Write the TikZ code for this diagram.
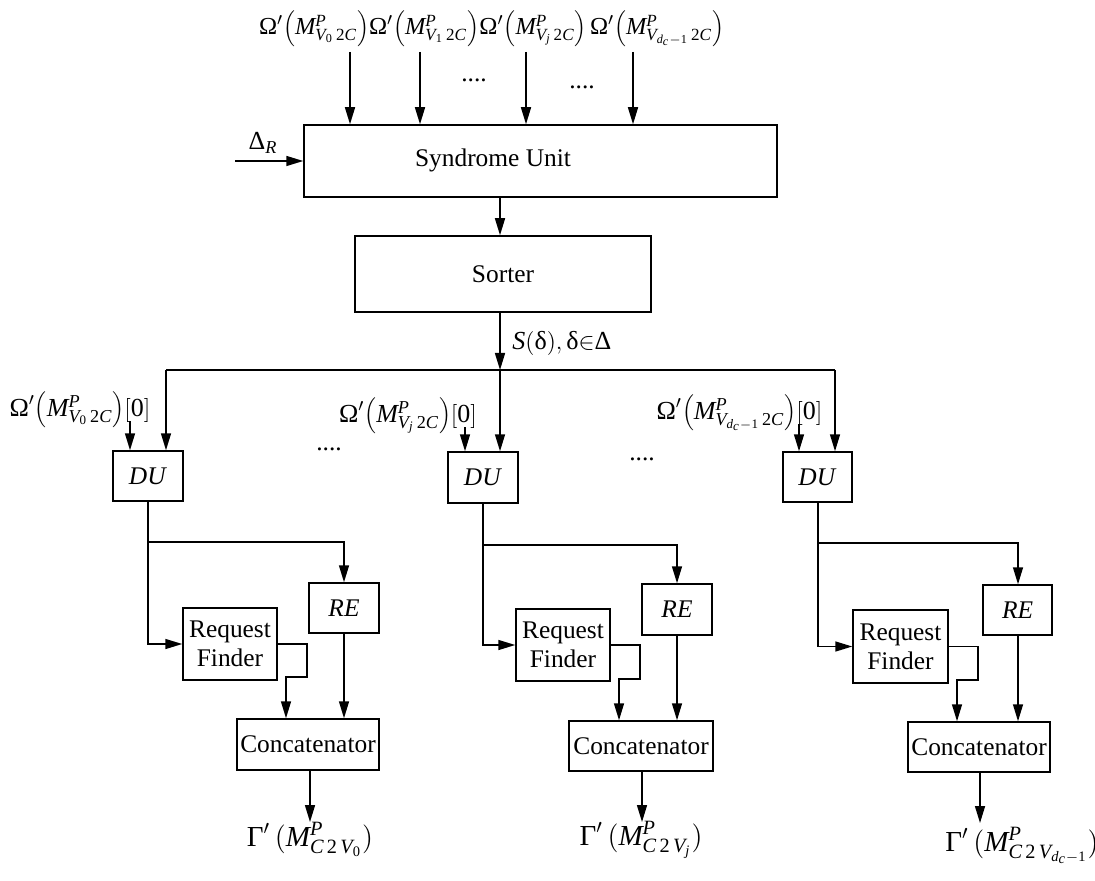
\documentclass[tikz,border=0pt]{standalone}
\usepackage{fontspec}
\setmainfont{Liberation Serif}
\usetikzlibrary{arrows.meta}
\newcommand{\myOm}{\textrm{Ω}^{\prime}}
\newcommand{\myGa}{\textrm{Γ}^{\prime}\,}
\newcommand{\myMM}[1]{\Bigl(\mathit{M}^{\mathit{P}}_{#1}\Bigr)}
\newcommand{\myV}[1]{\mathit{V}_{#1}\,\mathrm{2}\mathit{C}}
\newcommand{\myW}[1]{\mathit{C}\,\mathrm{2}\,\mathit{V}_{#1}}
\newcommand{\mydc}{\mathit{d}_{\mathit{c}}-\mathrm{1}}
\begin{document}
\begin{tikzpicture}[x=0.5pt,y=-0.5pt,
  box/.style={draw,line width=0.75pt,inner sep=0pt,align=center,font=\fontsize{12.7}{14.5}\selectfont},
  arr/.style={line width=0.75pt,-{Triangle[length=8.5pt,width=5pt]}},
  ln/.style={line width=0.75pt},
  lbl/.style={inner sep=0pt,anchor=base,font=\fontsize{13}{15}\selectfont},
  toplbl/.style={inner sep=0pt,anchor=base,font=\fontsize{12.2}{14}\selectfont},
  big/.style={inner sep=0pt,anchor=base,font=\fontsize{14.5}{16}\selectfont},
  txt/.style={inner sep=0pt,font=\fontsize{12.7}{14.5}\selectfont}]
\useasboundingbox (0,0) rectangle (1095,881);

% top labels
\node[toplbl] (in0) at (314,35) {$\myOm\myMM{\myV{\mathrm{0}}}$};
\node[toplbl] (in1) at (424,35) {$\myOm\myMM{\myV{\mathrm{1}}}$};
\node[toplbl] (inj) at (533,35) {$\myOm\myMM{\myV{\mathit{j}}}$};
\node[toplbl] (ind) at (657,35) {$\myOm\myMM{\myV{\mydc}}$};
\node[txt] (dots1) at (474,80) {....};
\node[txt] (dots2) at (582,87) {....};

% main boxes
\node[box,minimum width=236.5pt,minimum height=36pt] (su) at (540.5,161) {};
\node[txt] (sutext) at (493,160) {Syndrome Unit};
\node[box,minimum width=148pt,minimum height=38pt] (sorter) at (503,274) {Sorter};

\coordinate (t0) at (350,52);
\coordinate (t1) at (420,52);
\coordinate (tj) at (526,52);
\coordinate (td) at (633,52);
\foreach \t in {t0,t1,tj,td} \draw[arr] (\t) -- (\t |- su.north);

\coordinate (dr) at (235,161);
\draw[arr] (dr) -- (su.west);
\node[lbl] (drl) at (263,150) {$\textrm{Δ}_{\mathit{R}}$};

\coordinate (sx) at (500,0);
\draw[arr] (su.south -| sx) -- (sorter.north -| sx);
\coordinate (bus) at (500,370);
\draw[arr] (sorter.south -| sx) -- (bus);
\node[inner sep=0pt,anchor=base west,font=\fontsize{13}{15}\selectfont] (sl) at (512,350) {$\mathit{S}(\textrm{δ}),\textrm{δ}{\in}\textrm{Δ}$};

% DU boxes
\node[box,minimum width=35pt,minimum height=25pt] (du1) at (148,476) {\textit{DU}};
\node[box,minimum width=35pt,minimum height=25.5pt] (du2) at (483,477.5) {\textit{DU}};
\node[box,minimum width=34.5pt,minimum height=25pt] (du3) at (817.5,477) {\textit{DU}};

\coordinate (bl) at (166,370);
\coordinate (br) at (835,370);
\draw[ln] (bl) -- (br);
\draw[arr] (bl) -- (bl |- du1.north);
\draw[arr] (bus) -- (bus |- du2.north);
\draw[arr] (br) -- (br |- du3.north);

% [0] labels
\node[lbl] (z1) at (80,416) {$\myOm\myMM{\myV{\mathrm{0}}}[\mathrm{0}]$};
\node[lbl] (z2) at (408,422) {$\myOm\myMM{\myV{\mathit{j}}}[\mathrm{0}]$};
\node[lbl] (z3) at (739.5,419) {$\myOm\myMM{\myV{\mydc}}[\mathrm{0}]$};
\coordinate (a1) at (130,421);
\coordinate (a2) at (465,427);
\coordinate (a3) at (799,424);
\draw[arr] (a1) -- (a1 |- du1.north);
\draw[arr] (a2) -- (a2 |- du2.north);
\draw[arr] (a3) -- (a3 |- du3.north);
\node[txt] (dots3) at (329,449) {....};
\node[txt] (dots4) at (642,459) {....};

% column boxes
\node[box,minimum width=35pt,minimum height=25pt] (re1) at (344,608) {\textit{RE}};
\node[box,minimum width=35pt,minimum height=25.5pt] (re2) at (677,609.5) {\textit{RE}};
\node[box,minimum width=34.5pt,minimum height=25pt] (re3) at (1017.5,610) {\textit{RE}};
\node[box,minimum width=47pt,minimum height=36pt] (rf1) at (230,644) {Request\\Finder};
\node[box,minimum width=47pt,minimum height=36pt] (rf2) at (563,645) {Request\\Finder};
\node[box,minimum width=47.5pt,minimum height=36.5pt] (rf3) at (900.5,646.5) {Request\\Finder};
\node[box,minimum width=71pt,minimum height=25.5pt] (cc1) at (308,744.5) {Concatenator};
\node[box,minimum width=72pt,minimum height=25pt] (cc2) at (641,746) {Concatenator};
\node[box,minimum width=71pt,minimum height=25pt] (cc3) at (979,747) {Concatenator};

% column 1
\coordinate (b1) at (148,542);
\draw[ln] (du1.south) -- (b1);
\draw[arr] (b1) -| (re1.north);
\draw[arr] (b1) |- (rf1.west);
\draw[arr] (rf1.east) -| (307,677) -| (cc1.north -| 286,0);
\draw[arr] (re1.south) -- (re1.south |- cc1.north);
% column 2
\coordinate (b2) at (483,545);
\draw[ln] (du2.south) -- (b2);
\draw[arr] (b2) -| (re2.north);
\draw[arr] (b2) |- (rf2.west);
\draw[arr] (rf2.east) -| (640,679) -| (cc2.north -| 619,0);
\draw[arr] (re2.south) -- (re2.south |- cc2.north);
% column 3
\coordinate (b3) at (818,543);
\draw[ln] (du3.south -| b3) -- (b3);
\draw[arr] (b3) -| (re3.north -| 1018,0);
\draw[arr] (b3) |- (rf3.west);
\draw[arr] (rf3.east) -| (978,680) -| (cc3.north -| 957,0);
\draw[arr] (re3.south -| 1018,0) -- (cc3.north -| 1018,0);

% outputs
\coordinate (o1) at (310,822);
\coordinate (o2) at (642,822);
\coordinate (o3) at (980,823);
\draw[arr] (o1 |- cc1.south) -- (o1);
\draw[arr] (o2 |- cc2.south) -- (o2);
\draw[arr] (o3 |- cc3.south) -- (o3);
\node[big] (g1) at (310,846) {$\myGa\myMM{\myW{\mathrm{0}}}$};
\node[big] (g2) at (641,845) {$\myGa\myMM{\myW{\mathit{j}}}$};
\node[big] (g3) at (1022,851) {$\myGa\myMM{\myW{\mydc}}$};
\end{tikzpicture}
\end{document}
